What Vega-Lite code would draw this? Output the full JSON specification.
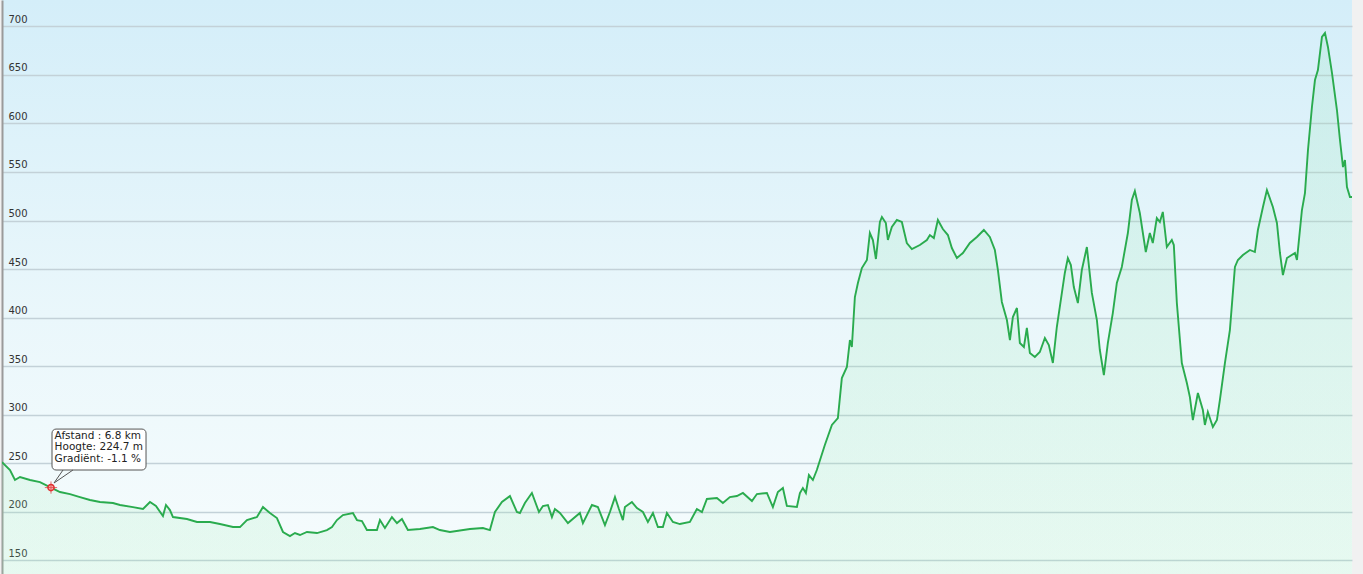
{
  "$schema": "https://vega.github.io/schema/vega-lite/v6.json",
  "width": 1350,
  "height": 574,
  "autosize": {"type": "none"},
  "padding": {"left": 2, "top": 0, "right": 11, "bottom": 0},
  "background": "#f1f1f1",
  "config": {
    "view": {
      "stroke": null,
      "fill": {"gradient": "linear", "x1": 0, "y1": 0, "x2": 0, "y2": 1,
        "stops": [{"offset": 0, "color": "#d4eef9"}, {"offset": 0.55, "color": "#eaf7fb"}, {"offset": 1, "color": "#f6fcfd"}]}
    },
    "font": "DejaVu Sans"
  },
  "datasets": {"profile": [
    {"km":0,"elev":251.0},{"km":1.11,"elev":242.8},{"km":1.80,"elev":232.5},{"km":2.50,"elev":235.6},{"km":3.89,"elev":232.5},{"km":5.27,"elev":230.4},{"km":6.8,"elev":224.7},{"km":8.05,"elev":220.1},{"km":9.44,"elev":218.0},{"km":10.82,"elev":214.9},{"km":12.21,"elev":211.9},{"km":13.60,"elev":209.8},{"km":15.40,"elev":208.8},{"km":16.38,"elev":206.7},{"km":18.18,"elev":204.6},{"km":19.57,"elev":202.6},{"km":20.54,"elev":209.8},{"km":21.37,"elev":205.7},{"km":22.34,"elev":195.4},{"km":22.76,"elev":206.7},{"km":23.31,"elev":201.5},{"km":23.73,"elev":194.3},{"km":25.67,"elev":192.3},{"km":27.06,"elev":189.2},{"km":28.87,"elev":189.2},{"km":30.25,"elev":187.1},{"km":32.06,"elev":184.0},{"km":33.03,"elev":184.0},{"km":34.0,"elev":191.2},{"km":35.39,"elev":194.3},{"km":36.22,"elev":204.6},{"km":37.19,"elev":198.5},{"km":38.16,"elev":193.3},{"km":39.0,"elev":178.9},{"km":39.97,"elev":174.7},{"km":40.66,"elev":177.8},{"km":41.36,"elev":175.8},{"km":42.33,"elev":178.9},{"km":43.72,"elev":177.8},{"km":45.10,"elev":180.9},{"km":45.80,"elev":184.0},{"km":46.49,"elev":191.2},{"km":47.32,"elev":196.4},{"km":48.71,"elev":198.5},{"km":49.27,"elev":191.2},{"km":49.96,"elev":190.2},{"km":50.65,"elev":180.9},{"km":52.04,"elev":180.9},{"km":52.46,"elev":191.2},{"km":53.15,"elev":183.0},{"km":54.12,"elev":194.3},{"km":54.82,"elev":188.1},{"km":55.51,"elev":192.3},{"km":56.34,"elev":180.9},{"km":58.01,"elev":182.0},{"km":59.81,"elev":184.0},{"km":60.78,"elev":180.9},{"km":62.17,"elev":178.9},{"km":64.95,"elev":182.0},{"km":66.75,"elev":183.0},{"km":67.72,"elev":180.9},{"km":68.42,"elev":199.5},{"km":69.39,"elev":209.8},{"km":70.50,"elev":216.0},{"km":71.47,"elev":199.5},{"km":71.89,"elev":198.5},{"km":72.58,"elev":208.8},{"km":73.55,"elev":219.1},{"km":74.53,"elev":199.5},{"km":75.08,"elev":205.7},{"km":75.77,"elev":206.7},{"km":76.33,"elev":194.3},{"km":76.74,"elev":202.6},{"km":77.44,"elev":198.5},{"km":78.55,"elev":188.1},{"km":80.21,"elev":198.5},{"km":80.63,"elev":188.1},{"km":81.88,"elev":206.7},{"km":82.71,"elev":204.6},{"km":83.69,"elev":186.1},{"km":84.38,"elev":199.5},{"km":85.08,"elev":214.9},{"km":85.63,"elev":202.6},{"km":86.18,"elev":191.2},{"km":86.46,"elev":204.6},{"km":87.43,"elev":209.8},{"km":88.13,"elev":203.6},{"km":88.96,"elev":199.5},{"km":89.65,"elev":189.2},{"km":90.35,"elev":198.5},{"km":91.04,"elev":184.0},{"km":91.73,"elev":184.0},{"km":92.29,"elev":198.5},{"km":93.12,"elev":189.2},{"km":94.09,"elev":187.1},{"km":95.48,"elev":189.2},{"km":96.45,"elev":202.6},{"km":97.15,"elev":199.5},{"km":97.84,"elev":212.9},{"km":99.23,"elev":213.9},{"km":100.06,"elev":208.8},{"km":101.03,"elev":214.9},{"km":102.0,"elev":216.0},{"km":102.84,"elev":219.1},{"km":104.09,"elev":210.8},{"km":104.78,"elev":218.0},{"km":106.17,"elev":219.1},{"km":107.0,"elev":204.6},{"km":107.69,"elev":220.1},{"km":108.39,"elev":224.2},{"km":108.94,"elev":205.7},{"km":110.33,"elev":204.6},{"km":110.75,"elev":219.1},{"km":111.16,"elev":224.2},{"km":111.58,"elev":219.1},{"km":112.0,"elev":237.6},{"km":112.55,"elev":232.5},{"km":113.10,"elev":242.8},{"km":114.21,"elev":268.6},{"km":115.19,"elev":289.2},{"km":116.02,"elev":296.4},{"km":116.57,"elev":337.6},{"km":117.27,"elev":349.0},{"km":117.69,"elev":376.8},{"km":117.96,"elev":369.6},{"km":118.38,"elev":421.1},{"km":118.80,"elev":435.6},{"km":119.35,"elev":451.0},{"km":120.05,"elev":459.3},{"km":120.46,"elev":487.1},{"km":120.88,"elev":479.9},{"km":121.30,"elev":460.3},{"km":121.85,"elev":498.5},{"km":122.13,"elev":503.6},{"km":122.68,"elev":497.4},{"km":122.96,"elev":479.9},{"km":123.51,"elev":493.3},{"km":124.21,"elev":500.5},{"km":124.90,"elev":498.5},{"km":125.59,"elev":476.8},{"km":126.29,"elev":470.6},{"km":127.40,"elev":474.7},{"km":128.37,"elev":479.9},{"km":128.79,"elev":485.0},{"km":129.34,"elev":481.9},{"km":129.90,"elev":500.5},{"km":130.59,"elev":491.2},{"km":131.29,"elev":485.0},{"km":131.84,"elev":471.6},{"km":132.54,"elev":461.3},{"km":133.37,"elev":466.5},{"km":134.34,"elev":476.8},{"km":135.31,"elev":483.0},{"km":136.28,"elev":490.2},{"km":137.11,"elev":483.0},{"km":137.81,"elev":469.6},{"km":138.23,"elev":449.0},{"km":138.78,"elev":416.0},{"km":139.48,"elev":397.4},{"km":139.90,"elev":376.8},{"km":140.31,"elev":400.5},{"km":140.87,"elev":409.8},{"km":141.28,"elev":373.7},{"km":141.84,"elev":369.6},{"km":142.25,"elev":389.2},{"km":142.67,"elev":363.4},{"km":143.36,"elev":359.3},{"km":144.05,"elev":364.4},{"km":144.75,"elev":378.9},{"km":145.30,"elev":371.6},{"km":145.86,"elev":353.1},{"km":146.41,"elev":390.2},{"km":147.52,"elev":445.9},{"km":147.94,"elev":461.3},{"km":148.36,"elev":454.1},{"km":148.77,"elev":431.4},{"km":149.33,"elev":414.9},{"km":149.88,"elev":449.0},{"km":150.58,"elev":472.7},{"km":151.27,"elev":425.3},{"km":151.97,"elev":397.4},{"km":152.38,"elev":366.5},{"km":152.94,"elev":340.7},{"km":153.49,"elev":373.7},{"km":154.18,"elev":404.6},{"km":154.74,"elev":435.6},{"km":155.43,"elev":452.1},{"km":156.27,"elev":487.1},{"km":156.82,"elev":521.1},{"km":157.24,"elev":530.4},{"km":157.93,"elev":507.7},{"km":158.76,"elev":467.5},{"km":159.32,"elev":487.1},{"km":159.73,"elev":476.8},{"km":160.29,"elev":502.6},{"km":160.71,"elev":498.5},{"km":161.12,"elev":508.8},{"km":161.68,"elev":472.7},{"km":162.37,"elev":479.9},{"km":162.65,"elev":474.7},{"km":163.07,"elev":414.9},{"km":163.76,"elev":353.1},{"km":164.46,"elev":332.5},{"km":164.88,"elev":318.0},{"km":165.29,"elev":294.3},{"km":165.99,"elev":322.2},{"km":166.68,"elev":304.6},{"km":166.96,"elev":289.2},{"km":167.37,"elev":302.6},{"km":168.07,"elev":287.1},{"km":168.63,"elev":294.3},{"km":169.04,"elev":314.9},{"km":169.74,"elev":353.1},{"km":170.43,"elev":387.1},{"km":171.13,"elev":452.1},{"km":171.54,"elev":459.3},{"km":172.24,"elev":464.4},{"km":173.21,"elev":469.6},{"km":173.90,"elev":467.5},{"km":174.32,"elev":490.2},{"km":175.02,"elev":513.9},{"km":175.57,"elev":531.4},{"km":176.40,"elev":513.9},{"km":176.96,"elev":497.4},{"km":177.38,"elev":466.5},{"km":177.79,"elev":443.8},{"km":178.35,"elev":461.3},{"km":179.46,"elev":466.5},{"km":179.74,"elev":459.3},{"km":180.43,"elev":510.8},{"km":180.85,"elev":528.3},{"km":181.27,"elev":572.7},{"km":181.82,"elev":617.0},{"km":182.24,"elev":644.8},{"km":182.65,"elev":655.1},{"km":183.21,"elev":689.2},{"km":183.63,"elev":693.3},{"km":184.04,"elev":678.9},{"km":184.60,"elev":652.1},{"km":185.29,"elev":613.9},{"km":185.71,"elev":583.0},{"km":186.13,"elev":555.1},{"km":186.40,"elev":562.4},{"km":186.68,"elev":534.5},{"km":187.10,"elev":524.2},{"km":187.38,"elev":524.2}
  ],
  "pointer": [{"px": 8.47, "py": 242.8, "o": 1}, {"px": 7.22, "py": 229.4, "o": 2}, {"px": 9.85, "py": 242.8, "o": 3}],
  "one": [{"label": "tooltip"}]},
  "layer": [
    {"data": {"name": "profile"},
     "mark": {"type": "area", "clip": true, "color": {"gradient": "linear", "x1": 0, "y1": 0, "x2": 0, "y2": 1,
        "stops": [{"offset": 0, "color": "rgba(140,225,175,0.18)"}, {"offset": 1, "color": "rgba(150,235,175,0.16)"}]}},
     "encoding": {
       "x": {"field": "km", "type": "quantitative", "scale": {"domain": [0, 187.38], "nice": false, "zero": false}, "axis": null},
       "y": {"field": "elev", "type": "quantitative", "scale": {"domain": [135.6, 727.3], "nice": false, "zero": false},
         "axis": {"values": [150,200,250,300,350,400,450,500,550,600,650,700], "title": null, "ticks": false,
           "labelAlign": "left", "labelBaseline": "bottom", "labelPadding": -6, "labelOffset": -2,
           "labelFont": "DejaVu Sans", "labelFontSize": 10, "labelColor": "#333333",
           "domain": true, "domainColor": "#9a9a9a", "domainWidth": 2,
           "grid": true, "gridColor": "#c3d1d8", "gridWidth": 1.5}},
       "y2": {"datum": 135}}},
    {"data": {"name": "profile"},
     "mark": {"type": "line", "clip": true, "color": "#2aab4e", "strokeWidth": 1.9},
     "encoding": {
       "x": {"field": "km", "type": "quantitative"},
       "y": {"field": "elev", "type": "quantitative"}}},
    {"data": {"name": "one"},
     "mark": {"type": "rect", "fill": "#ffffff", "stroke": "#555555", "strokeWidth": 1, "cornerRadius": 4},
     "encoding": {"x": {"datum": 6.94}, "x2": {"datum": 19.99}, "y": {"datum": 242.8}, "y2": {"datum": 285.0}}},
    {"data": {"name": "pointer"},
     "mark": {"type": "line", "color": "#555555", "strokeWidth": 1},
     "encoding": {"x": {"field": "px", "type": "quantitative"}, "y": {"field": "py", "type": "quantitative"}, "order": {"field": "o"}}},
    {"data": {"name": "one"},
     "mark": {"type": "text", "align": "left", "baseline": "top", "font": "DejaVu Sans", "fontSize": 10.5, "color": "#222222", "lineHeight": 11.7},
     "encoding": {"x": {"datum": 7.3}, "y": {"datum": 283.3}, "text": {"value": ["Afstand : 6.8 km", "Hoogte: 224.7 m", "Gradiënt: -1.1 %"]}}},
    {"data": {"name": "one"},
     "mark": {"type": "point", "shape": "circle", "filled": false, "fill": "#f7b4b4", "fillOpacity": 1, "stroke": "#e03333", "strokeWidth": 1.5, "size": 38},
     "encoding": {"x": {"datum": 6.8}, "y": {"datum": 224.7}}},
    {"data": {"name": "one"},
     "mark": {"type": "point", "shape": "M-1,0L1,0M0,-1L0,1", "filled": false, "stroke": "#e03333", "strokeWidth": 1, "size": 150},
     "encoding": {"x": {"datum": 6.8}, "y": {"datum": 224.7}}}
  ]
}
